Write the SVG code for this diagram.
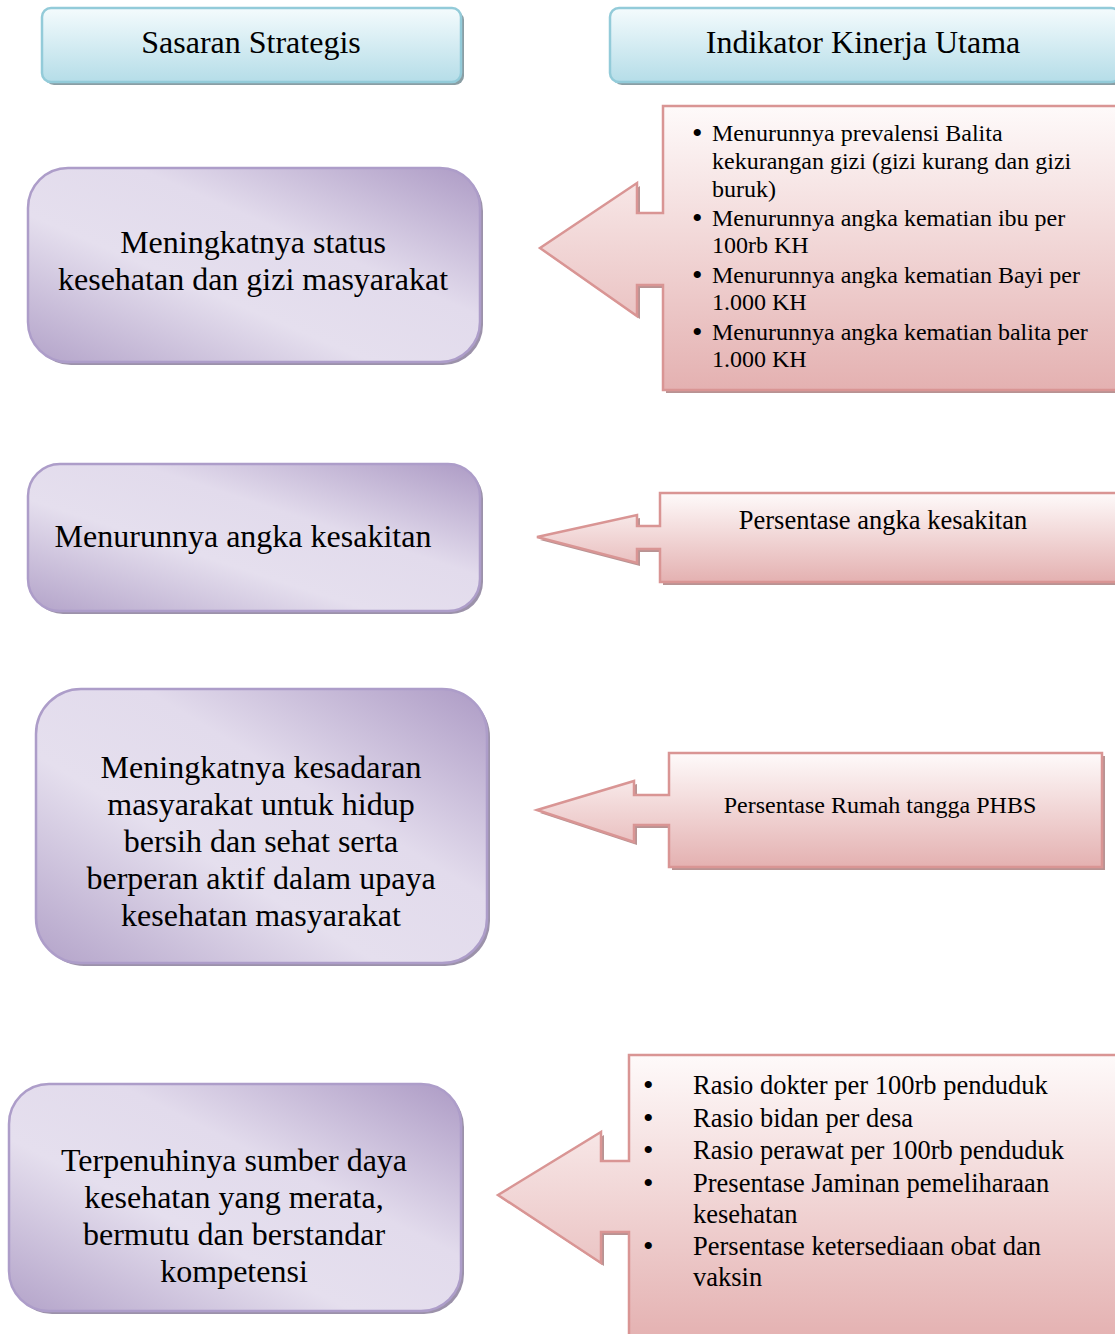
<svg xmlns="http://www.w3.org/2000/svg" width="1115" height="1334" viewBox="0 0 1115 1334">
<defs>
<linearGradient id="gHead" x1="0" y1="0" x2="0" y2="1">
<stop offset="0" stop-color="#f4fbfd"/><stop offset="1" stop-color="#b5dde8"/>
</linearGradient>
<linearGradient id="gPurple" x1="1" y1="0" x2="0" y2="1">
<stop offset="0" stop-color="#ad9bc5"/><stop offset="0.38" stop-color="#e2dbec"/><stop offset="0.62" stop-color="#e5dfee"/><stop offset="1" stop-color="#b3a3c9"/>
</linearGradient>
<linearGradient id="gPink" x1="0" y1="0" x2="0" y2="1">
<stop offset="0" stop-color="#fefafa"/><stop offset="1" stop-color="#e4b1b1"/>
</linearGradient>
<style>
.head{fill:url(#gHead);stroke:#93cbd9;stroke-width:2.5}
.hshadow{fill:#8a9ea4}
.box{fill:url(#gPurple);stroke:#ad9dc9;stroke-width:2.5}
.bshadow{fill:#9c92aa}
.call{fill:url(#gPink);stroke:#d99594;stroke-width:2.5}
.cshadow{fill:#b89393}
text{font-family:"Liberation Serif","Times New Roman",serif;fill:#000}
.ht{font-size:32px;text-anchor:middle}
.bt{font-size:32px;text-anchor:middle}
.c1{font-size:24px}
.c4{font-size:26.5px}
.bu{font-size:30px}
</style>
</defs>

<g id="header-sasaran">
<rect class="hshadow" x="45" y="11" width="419" height="74" rx="9"/>
<rect class="head" x="42" y="8" width="419" height="74" rx="9"/>
<text class="ht" x="251" y="53">Sasaran Strategis</text>
</g>
<g id="header-indikator">
<rect class="hshadow" x="613" y="11" width="510" height="74" rx="9"/>
<rect class="head" x="610" y="8" width="510" height="74" rx="9"/>
<text class="ht" x="863" y="53">Indikator Kinerja Utama</text>
</g>

<g id="sasaran-1">
<rect class="bshadow" x="31" y="171" width="452" height="194" rx="40"/>
<rect class="box" x="28" y="168" width="452" height="194" rx="40"/>
<text class="bt" x="253" y="253">Meningkatnya status</text>
<text class="bt" x="253" y="290">kesehatan dan gizi masyarakat</text>
</g>
<g id="sasaran-2">
<rect class="bshadow" x="31" y="467" width="452" height="147" rx="32"/>
<rect class="box" x="28" y="464" width="452" height="147" rx="32"/>
<text class="bt" x="243" y="547">Menurunnya angka kesakitan</text>
</g>
<g id="sasaran-3">
<rect class="bshadow" x="39" y="692" width="451" height="274" rx="45"/>
<rect class="box" x="36" y="689" width="451" height="274" rx="45"/>
<text class="bt" x="261" y="778">Meningkatnya kesadaran</text>
<text class="bt" x="261" y="815">masyarakat untuk hidup</text>
<text class="bt" x="261" y="852">bersih dan sehat serta</text>
<text class="bt" x="261" y="889">berperan aktif dalam upaya</text>
<text class="bt" x="261" y="926">kesehatan masyarakat</text>
</g>
<g id="sasaran-4">
<rect class="bshadow" x="12" y="1087" width="452" height="227" rx="40"/>
<rect class="box" x="9" y="1084" width="452" height="227" rx="40"/>
<text class="bt" x="234" y="1171">Terpenuhinya sumber daya</text>
<text class="bt" x="234" y="1208">kesehatan yang merata,</text>
<text class="bt" x="234" y="1245">bermutu dan berstandar</text>
<text class="bt" x="234" y="1282">kompetensi</text>
</g>

<g id="connectors">
<g id="iku-1">
<path class="cshadow" transform="translate(3,3)" d="M540,248 L637,183 L637,213 L663,213 L663,106 L1118,106 L1118,390 L663,390 L663,285 L637,285 L637,316 Z"/>
<path class="call" d="M540,248 L637,183 L637,213 L663,213 L663,106 L1118,106 L1118,390 L663,390 L663,285 L637,285 L637,316 Z"/>
<g class="c1">
<text class="bu" x="692" y="143">•</text><text x="712" y="141">Menurunnya prevalensi Balita</text>
<text x="712" y="169">kekurangan gizi (gizi kurang dan gizi</text>
<text x="712" y="197">buruk)</text>
<text class="bu" x="692" y="228">•</text><text x="712" y="226">Menurunnya angka kematian ibu per</text>
<text x="712" y="253">100rb KH</text>
<text class="bu" x="692" y="285">•</text><text x="712" y="283">Menurunnya angka kematian Bayi per</text>
<text x="712" y="310">1.000 KH</text>
<text class="bu" x="692" y="342">•</text><text x="712" y="340">Menurunnya angka kematian balita per</text>
<text x="712" y="367">1.000 KH</text>
</g>
</g>
<g id="iku-2">
<path class="cshadow" transform="translate(3,3)" d="M537,537 L637,515 L637,526 L660,526 L660,493 L1118,493 L1118,582 L660,582 L660,549 L637,549 L637,563 Z"/>
<path class="call" d="M537,537 L637,515 L637,526 L660,526 L660,493 L1118,493 L1118,582 L660,582 L660,549 L637,549 L637,563 Z"/>
<text x="883" y="529" style="font-size:26.5px;text-anchor:middle">Persentase angka kesakitan</text>
</g>
<g id="iku-3">
<path class="cshadow" transform="translate(3,3)" d="M537,810 L634,781 L634,795 L669,795 L669,753 L1102,753 L1102,867 L669,867 L669,825 L634,825 L634,842 Z"/>
<path class="call" d="M537,810 L634,781 L634,795 L669,795 L669,753 L1102,753 L1102,867 L669,867 L669,825 L634,825 L634,842 Z"/>
<text x="880" y="813" style="font-size:24px;text-anchor:middle">Persentase Rumah tangga PHBS</text>
</g>
<g id="iku-4">
<path class="cshadow" transform="translate(3,3)" d="M498,1195 L601,1132 L601,1161 L629,1161 L629,1055 L1118,1055 L1118,1340 L629,1340 L629,1232 L601,1232 L601,1263 Z"/>
<path class="call" d="M498,1195 L601,1132 L601,1161 L629,1161 L629,1055 L1118,1055 L1118,1340 L629,1340 L629,1232 L601,1232 L601,1263 Z"/>
<g class="c4">
<text class="bu" x="643" y="1095">•</text><text x="693" y="1094">Rasio dokter per 100rb penduduk</text>
<text class="bu" x="643" y="1128">•</text><text x="693" y="1127">Rasio bidan per desa</text>
<text class="bu" x="643" y="1160">•</text><text x="693" y="1159">Rasio perawat per 100rb penduduk</text>
<text class="bu" x="643" y="1193">•</text><text x="693" y="1192">Presentase Jaminan pemeliharaan</text>
<text x="693" y="1223">kesehatan</text>
<text class="bu" x="643" y="1256">•</text><text x="693" y="1255">Persentase ketersediaan obat dan</text>
<text x="693" y="1286">vaksin</text>
</g>
</g>
</g>
</svg>
